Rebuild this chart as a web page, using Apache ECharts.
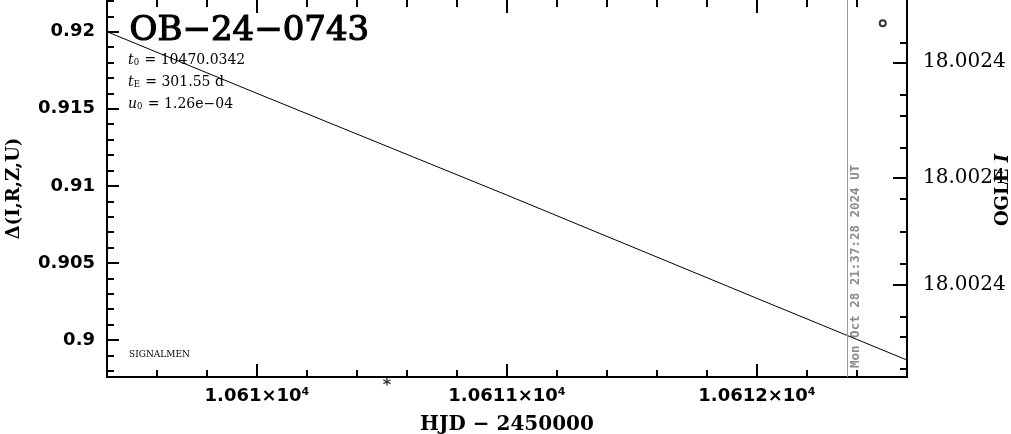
<!DOCTYPE html>
<html><head><meta charset="utf-8">
<script src="https://cdn.jsdelivr.net/npm/echarts@6/dist/echarts.min.js"></script>
<style>html,body{margin:0;padding:0;background:#fff}#c{width:1011px;height:434px}</style>
</head><body><div id="c"></div>
<script>
// ---- data ----
const eventName = 'OB−24−0743';
const paramLines = [
  ['t', '0', ' = 10470.0342'],
  ['t', 'E', ' = 301.55 d'],
  ['u', '0', ' = 1.26e−04']
];
const footer = 'SIGNALMEN';
const xAxisName = 'HJD − 2450000';
const yAxisName = 'Δ(I,R,Z,U)';
const y2AxisName = 'OGLE ';
const y2AxisNameItalic = 'I';

const modelHJD   = [10609.4, 10610.0, 10611.0, 10612.0, 10612.6];
const modelDelta = [0.9200, 0.9160, 0.9094, 0.9027, 0.8987];

const ogleHJD = [10612.503];
const ogleMag = [18.0023765];

const starHJD   = [10610.52];
const starDelta = [0.89705];

const nowHJD = 10612.36;
const nowLabel = 'Mon Oct 28 21:37:28 2024 UT';

const xRange = [10609.4, 10612.6];
const xMajorTicks = [10610, 10611, 10612];
const xTickLabels = ['1.061×10⁴', '1.0611×10⁴', '1.0612×10⁴'];
const xMinorStep = 0.2;

const yRange = [0.89760, 0.92206];
const yMajorTicks = [0.9, 0.905, 0.91, 0.915, 0.92];
const yTickLabels = ['0.9', '0.905', '0.91', '0.915', '0.92'];
const yMinorStep = 0.001;

const magRange = [18.0023744, 18.0024083];
const magMajorTicks = [18.0023800, 18.0023904, 18.0024000];
const magTickLabels = ['18.0024', '18.0024', '18.0024'];
const magMinorTicks = [18.0023782, 18.0023829, 18.0023848, 18.0023877, 18.0023923,
                       18.0023952, 18.0023981, 18.0024029, 18.0024047, 18.0024076];

// ---- helpers (axis construction only) ----
function steps(a, b, s) {
  const out = [];
  const n = Math.round((b - a) / s);
  for (let i = 0; i <= n; i++) out.push(+(a + i * s).toFixed(6));
  return out;
}
const xMinor = steps(xRange[0], xRange[1], xMinorStep);
const yMinor = steps(0.898, 0.922, yMinorStep);

const BLACK = '#000';
const sansBold = {fontFamily: 'DejaVu Sans', fontWeight: 'bold', color: BLACK};
const serif = 'DejaVu Serif';

function labelFrom(ticks, labels) {
  return v => {
    let best = 0, d = Infinity;
    ticks.forEach((t, i) => { const dd = Math.abs(t - v); if (dd < d) { d = dd; best = i; } });
    return labels[best];
  };
}

function xAx(pos, major, showLine, showLabel) {
  return {
    type: 'value', position: pos, min: xRange[0], max: xRange[1],
    splitLine: {show: false},
    axisLine: {show: showLine, onZero: false, lineStyle: {color: BLACK, width: 2}},
    axisTick: {show: true, inside: true, length: major ? 13 : 7,
      lineStyle: {color: BLACK, width: 2}, customValues: major ? xMajorTicks : xMinor},
    axisLabel: showLabel ? Object.assign({show: true, customValues: xMajorTicks, margin: 10, fontSize: 18,
      formatter: labelFrom(xMajorTicks, xTickLabels)}, sansBold) : {show: false}
  };
}
function yAx(pos, major, showLine, showLabel) {
  return {
    type: 'value', position: pos, min: yRange[0], max: yRange[1],
    splitLine: {show: false},
    axisLine: {show: showLine, onZero: false, lineStyle: {color: BLACK, width: 2}},
    axisTick: {show: true, inside: true, length: major ? 12 : 7,
      lineStyle: {color: BLACK, width: 2}, customValues: major ? yMajorTicks : yMinor},
    axisLabel: showLabel ? Object.assign({show: true, customValues: yMajorTicks, margin: 12, fontSize: 18,
      formatter: labelFrom(yMajorTicks, yTickLabels)}, sansBold) : {show: false}
  };
}
function magAx(major, showLine) {
  return {
    type: 'value', position: 'right', inverse: true, min: magRange[0], max: magRange[1],
    splitLine: {show: false},
    axisLine: {show: showLine, onZero: false, lineStyle: {color: BLACK, width: 2}},
    axisTick: {show: true, inside: true, length: major ? 14 : 7,
      lineStyle: {color: BLACK, width: 2}, customValues: major ? magMajorTicks : magMinorTicks},
    axisLabel: major ? {show: true, customValues: magMajorTicks, margin: 16, fontSize: 20,
      fontFamily: serif, color: BLACK, formatter: labelFrom(magMajorTicks, magTickLabels)} : {show: false}
  };
}

const xAxes = [xAx('bottom', true, true, true), xAx('bottom', false, false, false),
               xAx('top', true, false, false), xAx('top', false, false, false)];
xAxes[0].name = xAxisName;
xAxes[0].nameLocation = 'middle';
xAxes[0].nameGap = 38;
xAxes[0].nameTextStyle = {fontFamily: serif, fontWeight: 'bold', fontSize: 20, color: BLACK};

const yAxes = [yAx('left', true, true, true), yAx('left', false, false, false),
               magAx(true, true), magAx(false, false)];
yAxes[0].name = yAxisName;
yAxes[0].nameLocation = 'middle';
yAxes[0].nameRotate = 90;
yAxes[0].nameGap = 84;
yAxes[0].nameTextStyle = {fontFamily: serif, fontWeight: 'bold', fontSize: 18, color: BLACK};

const paramGraphics = paramLines.map((p, i) => ({
  type: 'text', id: 'param' + i, left: 128, top: 53 + i * 22, silent: true,
  style: {
    text: '{i|' + p[0] + '}{s|' + p[1] + '}{n|' + p[2] + '}',
    rich: {
      i: {fontFamily: serif, fontStyle: 'italic', fontSize: 14, color: BLACK, verticalAlign: 'bottom', lineHeight: 16},
      s: {fontFamily: serif, fontSize: 8.5, color: BLACK, verticalAlign: 'bottom', lineHeight: 12, padding: [0, 1, 0, 0]},
      n: {fontFamily: serif, fontSize: 14, color: BLACK, verticalAlign: 'bottom', lineHeight: 16}
    }
  }
}));

const chart = echarts.init(document.getElementById('c'), null, {renderer: 'canvas'});
const option = {
  animation: false,
  backgroundColor: '#fff',
  grid: {left: 107, right: 104, top: 0, bottom: 57, containLabel: false, outerBoundsMode: 'none'},
  xAxis: xAxes,
  yAxis: yAxes,
  series: [
    {
      type: 'line', xAxisIndex: 0, yAxisIndex: 0, showSymbol: false, symbol: 'none',
      data: modelHJD.map((x, i) => [x, modelDelta[i]]),
      lineStyle: {color: BLACK, width: 1},
      markLine: {
        silent: true, symbol: 'none', label: {show: false},
        lineStyle: {color: '#9a9a9a', width: 1, type: 'solid'},
        data: [{xAxis: nowHJD}]
      }
    },
    {
      type: 'scatter', xAxisIndex: 0, yAxisIndex: 2,
      data: ogleHJD.map((x, i) => [x, ogleMag[i]]),
      symbol: 'circle', symbolSize: 6,
      itemStyle: {color: '#fff', borderColor: BLACK, borderWidth: 2}
    },
    {
      type: 'scatter', xAxisIndex: 0, yAxisIndex: 0, clip: false,
      data: starHJD.map((x, i) => [x, starDelta[i]]),
      symbolSize: 0.1,
      label: {show: true, position: 'inside', formatter: '*', fontFamily: 'DejaVu Sans', fontWeight: 'bold', fontSize: 16, color: BLACK}
    }
  ],
  graphic: [
    {type: 'text', id: 'title', left: 129, top: 14, silent: true,
     style: {text: eventName, fontFamily: serif, fontSize: 34, fill: BLACK, stroke: BLACK, lineWidth: 1.2}},
    ...paramGraphics,
    {type: 'text', id: 'footer', left: 129, top: 350, silent: true,
     style: {text: footer, fontFamily: serif, fontSize: 9, fill: BLACK}},
    {type: 'text', id: 'y2name', x: 1003, y: 190, rotation: Math.PI / 2, silent: true,
     style: {text: '{n|' + y2AxisName + '}{it|' + y2AxisNameItalic + '}', align: 'center', verticalAlign: 'middle',
       rich: {n: {fontFamily: serif, fontWeight: 'bold', fontSize: 18, color: BLACK},
              it: {fontFamily: serif, fontWeight: 'bold', fontStyle: 'italic', fontSize: 18, color: BLACK}}}}
  ]
};
chart.setOption(option);

const lx = chart.convertToPixel({xAxisIndex: 0}, nowHJD);
const gb = chart.convertToPixel({yAxisIndex: 0}, yRange[0]);
chart.setOption({
  graphic: [
    {type: 'text', id: 'nowText', x: lx + 9, y: gb - 9, rotation: Math.PI / 2, silent: true,
     style: {text: nowLabel, fontFamily: 'DejaVu Sans Mono', fontWeight: 'bold', fontSize: 12.5,
             fill: '#8c8c8c', align: 'left', verticalAlign: 'middle'}}
  ]
});
</script>
</body></html>
